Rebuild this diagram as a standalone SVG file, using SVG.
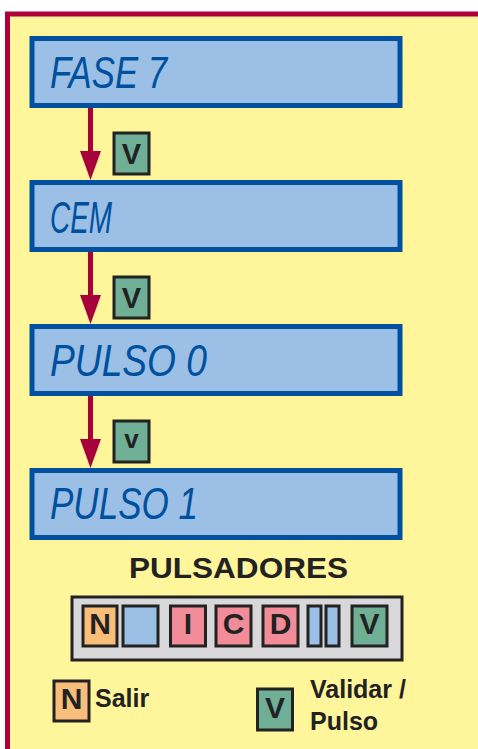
<svg xmlns="http://www.w3.org/2000/svg" width="478" height="749" viewBox="0 0 478 749">
<style>
.lcd{fill:#9BBFE5;stroke:#0050A0;stroke-width:5}
.lcdt{font-family:"Liberation Sans",Arial,sans-serif;font-style:italic;font-size:44px;fill:#0050A0}
.badge{fill:#6FAF96;stroke:#222;stroke-width:3}
.btn{stroke:#222;stroke-width:3}
.bt{font-family:"Liberation Sans",Arial,sans-serif;font-weight:bold;fill:#222;text-anchor:middle}
.conn{stroke:#A8003A;stroke-width:5;fill:none}
</style>
<defs>
<marker id="ah" viewBox="0 0 21 29" refX="21" refY="10.5" markerWidth="21" markerHeight="29" markerUnits="userSpaceOnUse" orient="auto">
<path d="M0,0 L29,10.5 L0,21 Z" fill="#A8003A"/>
</marker>
</defs>
<rect x="0" y="0" width="478" height="749" fill="#FFFFFF"/>
<rect id="frame" x="7.5" y="14" width="500" height="800" fill="#FFF59A" stroke="#B0003A" stroke-width="5"/>

<g id="connectors">
<path class="conn" d="M90.5,108 V153"/>
<path d="M80,151 L101,151 L90.5,180 Z" fill="#A8003A"/>
<path class="conn" d="M90.5,252 V297"/>
<path d="M80,295 L101,295 L90.5,324 Z" fill="#A8003A"/>
<path class="conn" d="M90.5,396 V441"/>
<path d="M80,439 L101,439 L90.5,468 Z" fill="#A8003A"/>
<g id="badge1"><rect class="badge" x="114" y="133" width="35" height="41"/><text class="bt" x="131.5" y="164" font-size="29">V</text></g>
<g id="badge2"><rect class="badge" x="114" y="277" width="35" height="41"/><text class="bt" x="131.5" y="308" font-size="29">V</text></g>
<g id="badge3"><rect class="badge" x="114" y="421" width="35" height="41"/><text class="bt" x="131.5" y="448" font-size="26">v</text></g>
</g>

<g id="lcd1"><rect class="lcd" x="32" y="38.5" width="368" height="67"/><text class="lcdt" x="50" y="88" textLength="117" lengthAdjust="spacingAndGlyphs">FASE 7</text></g>
<g id="lcd2"><rect class="lcd" x="32" y="182.5" width="368" height="67"/><text class="lcdt" x="50" y="232.5" textLength="62" lengthAdjust="spacingAndGlyphs">CEM</text></g>
<g id="lcd3"><rect class="lcd" x="32" y="326.5" width="368" height="67"/><text class="lcdt" x="50" y="376" textLength="157" lengthAdjust="spacingAndGlyphs">PULSO 0</text></g>
<g id="lcd4"><rect class="lcd" x="32" y="470.5" width="368" height="67"/><text class="lcdt" x="50" y="519" textLength="148" lengthAdjust="spacingAndGlyphs">PULSO 1</text></g>

<g id="title"><text class="bt" x="238.5" y="578" font-size="29" textLength="219" lengthAdjust="spacingAndGlyphs">PULSADORES</text></g>

<g id="panel">
<rect x="72" y="597" width="330" height="63" fill="#D8D8DA" stroke="#222" stroke-width="3"/>
<rect class="btn" x="83" y="606" width="34" height="40" fill="#F9BE7A"/><text class="bt" x="100" y="634" font-size="30">N</text>
<rect class="btn" x="123" y="606" width="35" height="40" fill="#9BBFE5"/>
<rect class="btn" x="170.5" y="606" width="35" height="40" fill="#F28C98"/><text class="bt" x="188" y="634" font-size="30">I</text>
<rect class="btn" x="216" y="606" width="35" height="40" fill="#F28C98"/><text class="bt" x="233.5" y="634" font-size="30">C</text>
<rect class="btn" x="263" y="606" width="35" height="40" fill="#F28C98"/><text class="bt" x="280.5" y="634" font-size="30">D</text>
<rect class="btn" x="308" y="606" width="13" height="40" fill="#9BBFE5"/>
<rect class="btn" x="326" y="606" width="13" height="40" fill="#9BBFE5"/>
<rect class="btn" x="352" y="606" width="35" height="40" fill="#6FAF96"/><text class="bt" x="369.5" y="634" font-size="30">V</text>
</g>

<g id="legendN">
<rect class="btn" x="54" y="681" width="35" height="40" fill="#F9BE7A"/><text class="bt" x="71.5" y="709" font-size="30">N</text>
<text class="bt" x="95" y="707" font-size="25" style="text-anchor:start">Salir</text>
</g>
<g id="legendV">
<rect class="btn" x="257.5" y="689" width="35" height="41" fill="#6FAF96"/><text class="bt" x="275" y="718" font-size="30">V</text>
<text class="bt" x="310" y="698" font-size="25" style="text-anchor:start">Validar /</text>
<text class="bt" x="310" y="730" font-size="25" style="text-anchor:start">Pulso</text>
</g>
</svg>
